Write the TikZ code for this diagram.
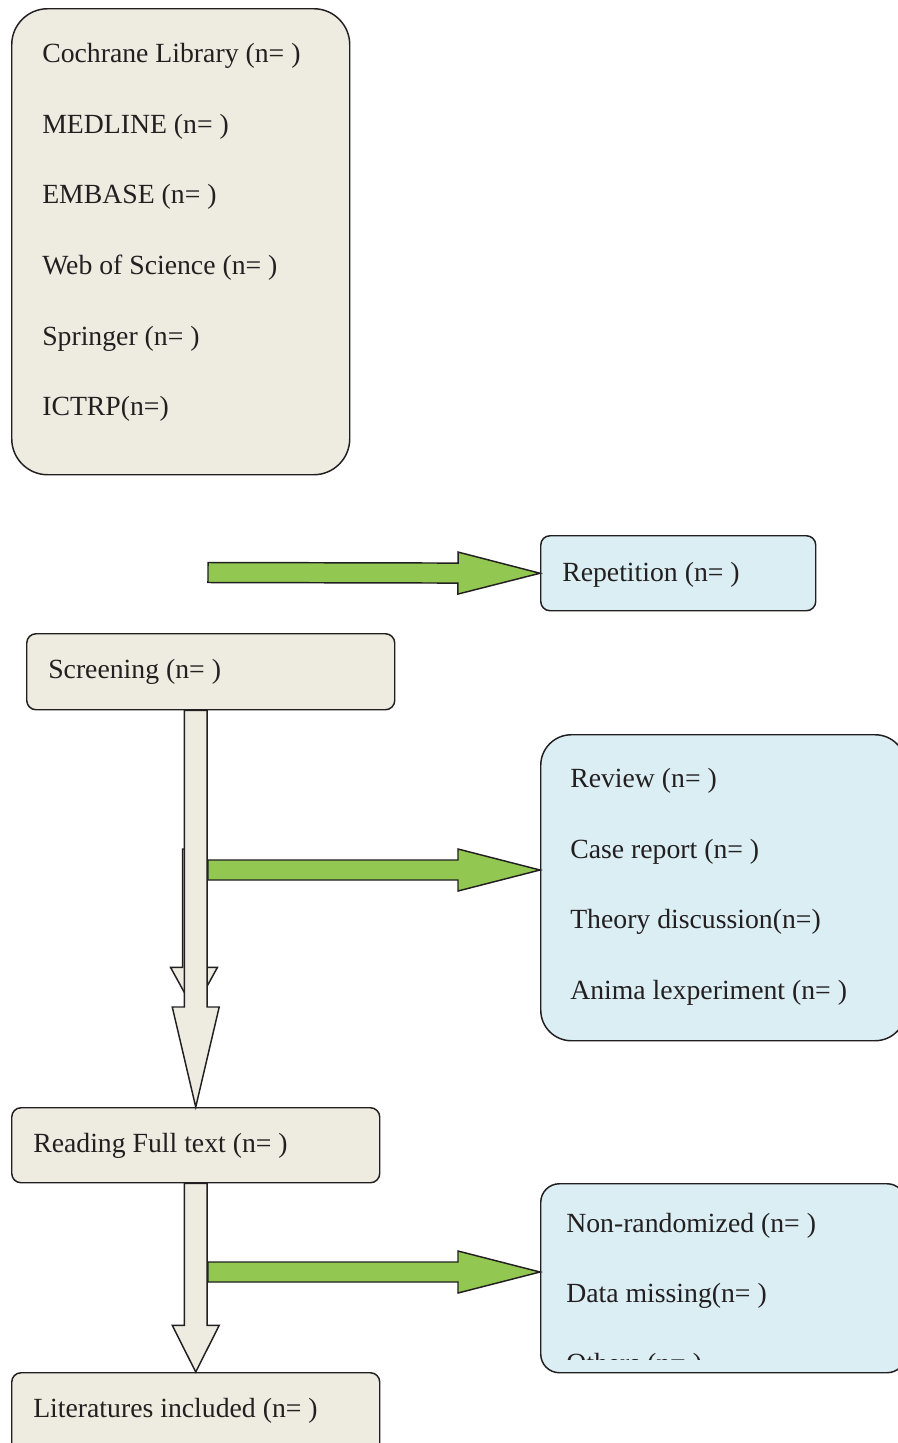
\documentclass[tikz,border=0pt]{standalone}
\usepackage{fontspec}
\setmainfont{Liberation Serif}
\usepackage{xcolor}
\definecolor{ftan}{HTML}{EEECE1}
\definecolor{fblue}{HTML}{DAEEF3}
\definecolor{fgreen}{HTML}{92C851}
\definecolor{fline}{HTML}{231F20}
\usetikzlibrary{calc,positioning}
\newlength\pxu
\setlength\pxu{0.75pt}
% block arrow: style, from, to, shaft half width, head half width, head length
\newcommand{\blockarrow}[6]{%
  \coordinate (ah) at ($(#3)!#6!(#2)$);
  \draw[#1] ($(#2)!#4!90:(#3)$) -- ($(ah)!#4!90:(#3)$) -- ($(ah)!#5!90:(#3)$) -- (#3)
    -- ($(ah)!#5!-90:(#3)$) -- ($(ah)!#4!-90:(#3)$) -- ($(#2)!#4!-90:(#3)$) -- cycle;}

\begin{document}
\begin{tikzpicture}[
  x=0.75pt, y=-0.75pt,
  font=\fontsize{20.8pt}{25pt}\selectfont,
  box/.style={rectangle,draw=fline,line width=1.1pt,anchor=north west,inner sep=0pt},
  tanbox/.style={box,fill=ftan},
  bluebox/.style={box,fill=fblue},
  txt/.style={anchor=west,inner sep=0pt,text=fline,yshift=-2.3pt},
  garr/.style={draw=fline,fill=fgreen,line width=1.1pt,line join=miter},
  farr/.style={draw=fline,fill=ftan,line width=1.1pt,line join=miter}
]
\useasboundingbox (0,0) rectangle (898,1443);
\clip (0,0) rectangle (898,1443);

% boxes
\node[tanbox,rounded corners=27pt,minimum width=338\pxu,minimum height=466\pxu] (src) at (11,8) {};
\node[bluebox,rounded corners=7pt,minimum width=275\pxu,minimum height=75\pxu] (rep) at (540,535) {};
\node[tanbox,rounded corners=7pt,minimum width=368\pxu,minimum height=76\pxu] (scr) at (26,633) {};
\node[bluebox,rounded corners=23pt,minimum width=365\pxu,minimum height=306\pxu] (rev) at (540,734) {};
\node[tanbox,rounded corners=7pt,minimum width=368\pxu,minimum height=75\pxu] (read) at (11,1107) {};
\node[bluebox,rounded corners=14pt,minimum width=365\pxu,minimum height=189\pxu] (nr) at (540,1183) {};
\node[tanbox,rounded corners=7pt,minimum width=368\pxu,minimum height=90\pxu] (lit) at (11,1372) {};

% texts
\node[txt] (cochrane) at (42,53) {Cochrane Library (n= )};
\node[txt] (medline) at (42,124) {MEDLINE (n= )};
\node[txt] (embase) at (42,194) {EMBASE (n= )};
\node[txt] (wos) at (42,265) {Web of Science (n= )};
\node[txt] (springer) at (42,336) {Springer (n= )};
\node[txt] (ictrp) at (42,406) {ICTRP(n=)};
\node[txt] (reptxt) at (562,572) {Repetition (n= )};
\node[txt] (scrtxt) at (48,669) {Screening (n= )};
\node[txt] (review) at (570,778) {Review (n= )};
\node[txt] (caserep) at (570,849) {Case report (n= )};
\node[txt] (theory) at (570,919) {Theory discussion(n=)};
\node[txt] (animal) at (570,990) {Anima lexperiment (n= )};
\node[txt] (readtxt) at (33,1143) {Reading Full text (n= )};
\node[txt] (nonrand) at (566,1223) {Non-randomized (n= )};
\node[txt] (datamiss) at (566,1293) {Data missing(n= )};
\begin{scope}
  \clip (nr.north west) rectangle (898,1359);
  \node[txt] (others) at (566,1363) {Others (n= )};
\end{scope}
\node[txt] (littxt) at (33,1408) {Literatures included (n= )};

% flow arrows
\coordinate (a1) at (scr.south -| read.north);
\coordinate (b0) at (194,849);
\coordinate (b1) at (194,1010);
\blockarrow{farr}{b0}{b1}{8.6pt}{17.6pt}{32pt}
\blockarrow{farr}{a1}{read.north}{8.6pt}{17.6pt}{75pt}
\blockarrow{farr}{read.south}{lit.north}{8.6pt}{17.6pt}{35pt}

% excluded arrows
\coordinate (g1) at (208,572.5);
\coordinate (g2) at (208,870);
\coordinate (g2t) at (rev.west |- g2);
\coordinate (g3) at (208,1272);
\coordinate (g3t) at (nr.west |- g3);
\blockarrow{garr}{g1}{rep.west}{7.5pt}{15.75pt}{61.5pt}
\blockarrow{garr}{g2}{g2t}{7.5pt}{15.75pt}{61.5pt}
\blockarrow{garr}{g3}{g3t}{7.5pt}{15.75pt}{61.5pt}
\end{tikzpicture}
\end{document}
